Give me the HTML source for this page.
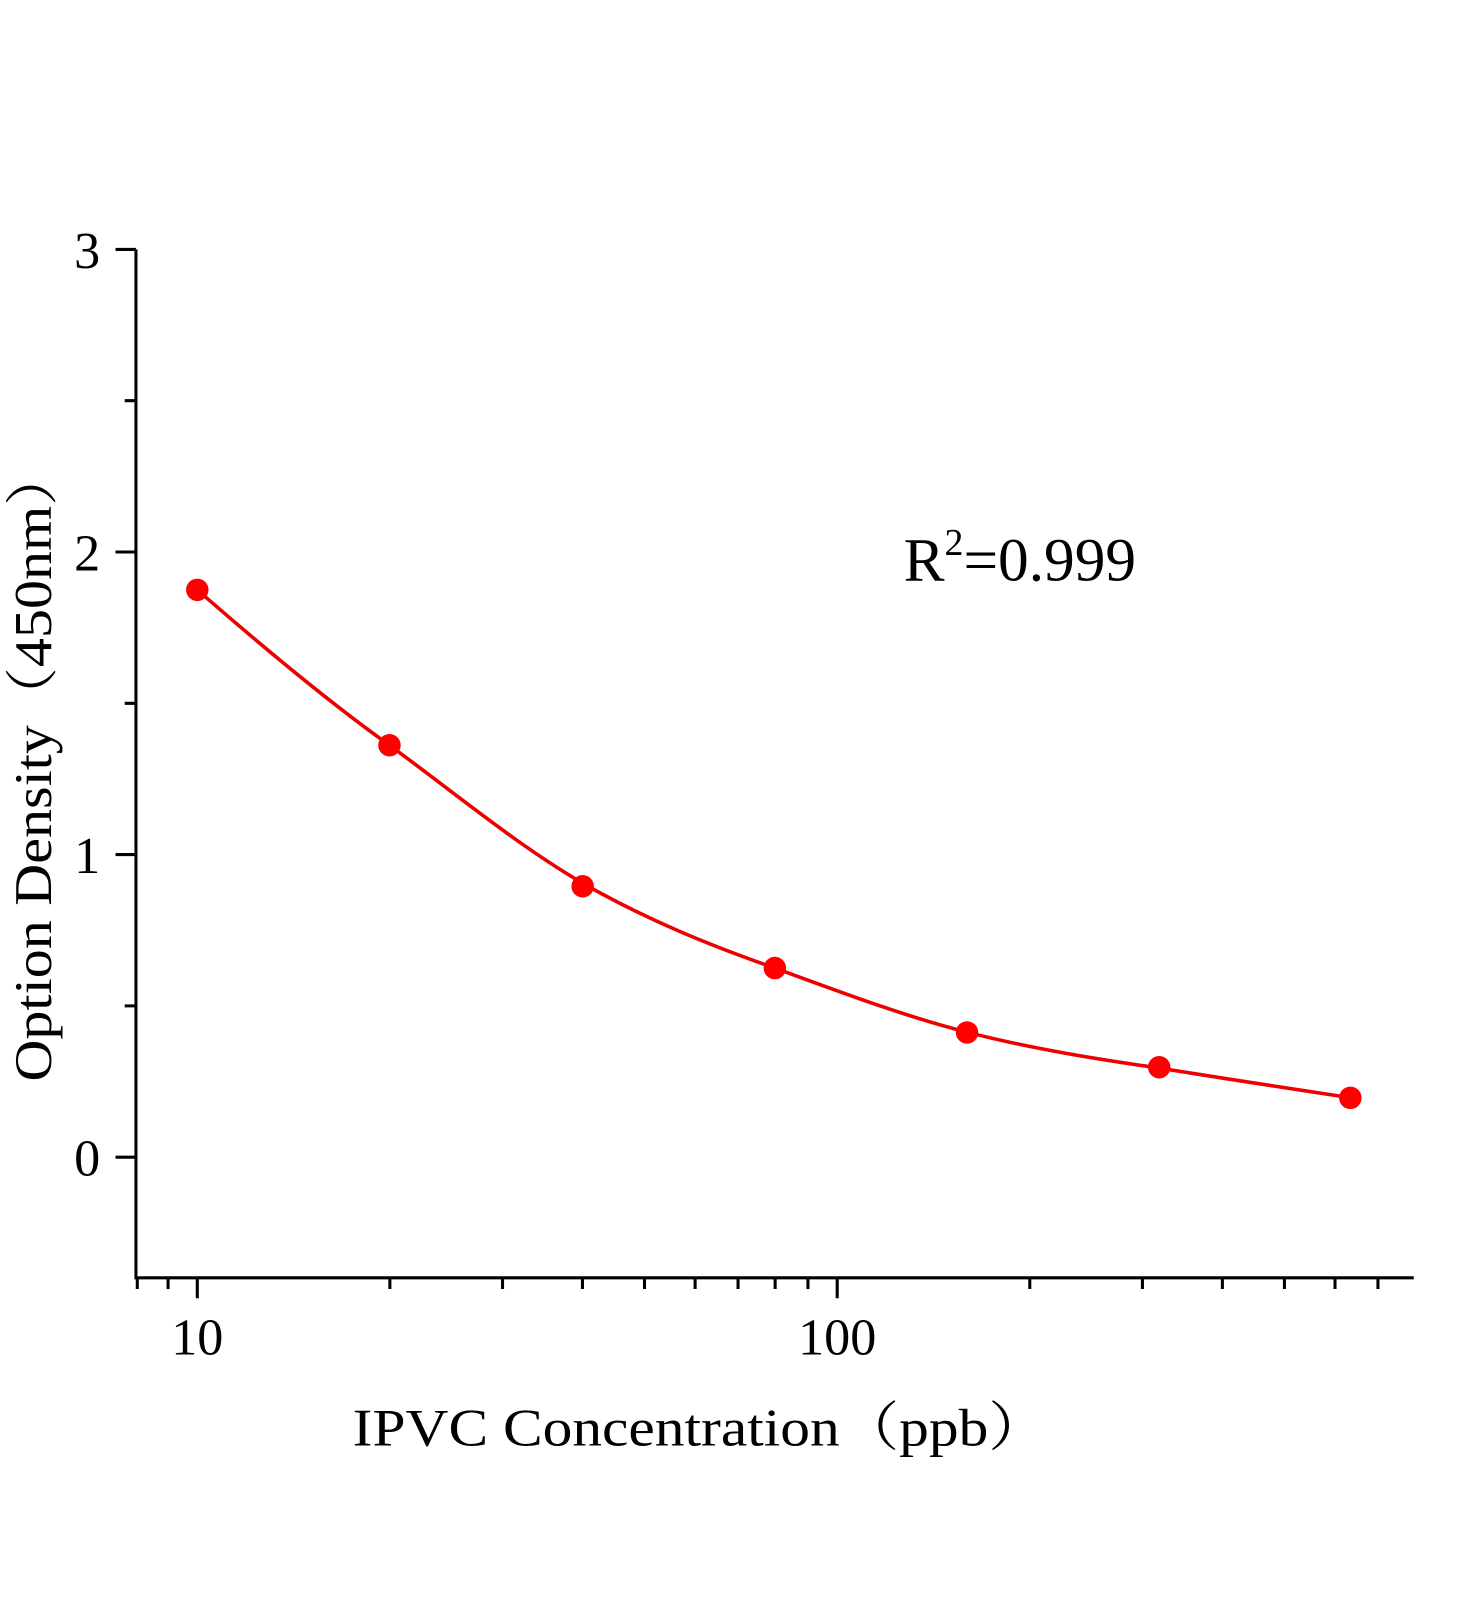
<!DOCTYPE html>
<html><head><meta charset="utf-8"><style>html,body{margin:0;padding:0;background:#fff}svg{display:block}</style></head>
<body>
<svg width="1472" height="1600" viewBox="0 0 1440 1565.2" xmlns="http://www.w3.org/2000/svg" font-family="Liberation Serif, Noto Serif CJK SC, serif">
<rect width="1440" height="1566" fill="#fff"/>
<g stroke="#000" stroke-width="3" fill="none">
<path d="M133 244 V1250 H1383"/>
<path d="M113 244H133M113 540H133M113 836H133M113 1132H133"/>
<path d="M122 392H133M122 688H133M122 984H133"/>
<path d="M193 1250V1270M819 1250V1270"/>
<path d="M134.3 1250V1261M164.4 1250V1261
M381.4 1250V1261M491.6 1250V1261M569.8 1250V1261M630.5 1250V1261M680 1250V1261M722 1250V1261M758.3 1250V1261M790.4 1250V1261
M1007.4 1250V1261M1117.6 1250V1261M1195.8 1250V1261M1256.5 1250V1261M1306 1250V1261M1348 1250V1261"/>
</g>
<g font-size="51" fill="#000">
<text x="98" y="1150" text-anchor="end">0</text>
<text x="98" y="854" text-anchor="end">1</text>
<text x="98" y="558" text-anchor="end">2</text>
<text x="98" y="262" text-anchor="end">3</text>
<text x="193" y="1325" text-anchor="middle">10</text>
<text x="819" y="1325" text-anchor="middle">100</text>
<text x="345" y="1414" font-size="52" textLength="680" lengthAdjust="spacingAndGlyphs">IPVC Concentration（ppb）</text>
<text transform="translate(50,1058) rotate(-90)" font-size="52" textLength="620" lengthAdjust="spacingAndGlyphs">Option Density（450nm）</text>
<text x="884" y="568" font-size="60">R<tspan font-size="37" dy="-25">2</tspan><tspan dy="25">=0.999</tspan></text>
</g>
<path d="M193 577 C240 618 315 682 381 729 C444 775 505 826 570 864 C633 900 695 925 758 947 C821 970 884 994 947 1010 C1010 1026 1072 1036 1135 1045 C1198 1055 1280 1068 1322 1074" stroke="#e00" stroke-width="3.5" fill="none"/>
<g fill="#f00">
<circle cx="193" cy="577" r="11"/>
<circle cx="381" cy="729" r="11"/>
<circle cx="570" cy="867" r="11"/>
<circle cx="758" cy="947" r="11"/>
<circle cx="946" cy="1010" r="11"/>
<circle cx="1134" cy="1044" r="11"/>
<circle cx="1321" cy="1074" r="11"/>
</g>
</svg>
</body></html>
